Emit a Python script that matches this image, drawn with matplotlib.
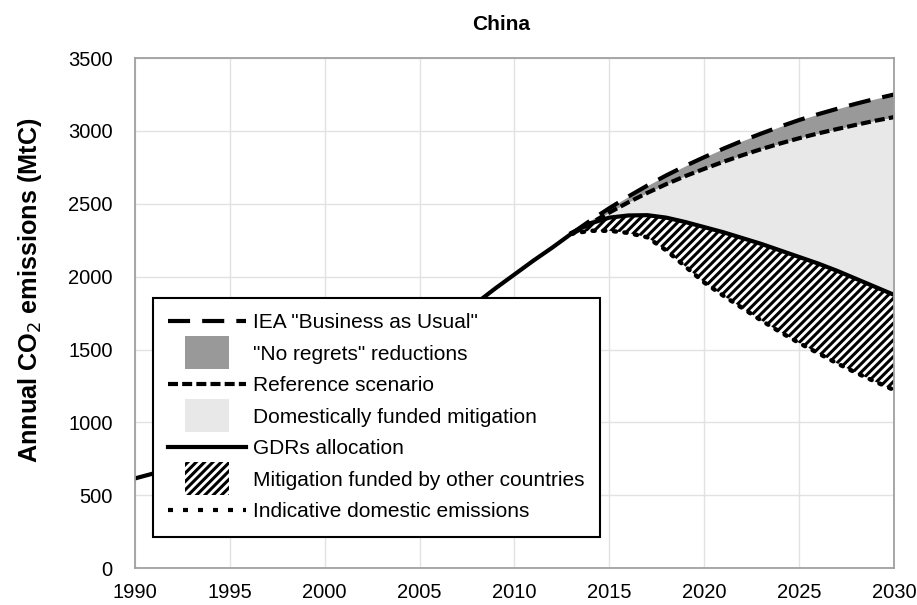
import numpy as np
import matplotlib
matplotlib.use('Agg')
import matplotlib.pyplot as plt
from matplotlib.lines import Line2D
from matplotlib.patches import Patch, Rectangle
from matplotlib.legend_handler import HandlerPatch

plt.rcParams['font.family'] = ['Liberation Sans', 'DejaVu Sans']
plt.rcParams['hatch.linewidth'] = 2.2

# historical emissions (MtC)
hist_years = np.arange(1990, 2014)
hist_vals = [615, 650, 690, 730, 775, 820, 850, 870, 880, 895, 915, 945,
             1000, 1100, 1260, 1410, 1560, 1700, 1820, 1920, 2015, 2110, 2200, 2295]

# projections
proj_years = np.arange(2013, 2031)
bau = [2295, 2385, 2470, 2550, 2625, 2695, 2760, 2820, 2878, 2932,
       2982, 3030, 3075, 3115, 3152, 3187, 3220, 3250]
reference = [2290, 2365, 2440, 2510, 2575, 2635, 2690, 2740, 2788, 2833,
             2875, 2914, 2950, 2983, 3013, 3042, 3070, 3095]
gdrs = [2300, 2365, 2405, 2420, 2422, 2405, 2375, 2340, 2305, 2265,
        2225, 2180, 2135, 2090, 2040, 1985, 1930, 1875]
indicative = [2295, 2315, 2315, 2300, 2270, 2180, 2070, 1960, 1870, 1785,
              1700, 1620, 1545, 1475, 1405, 1340, 1280, 1222]

labels = ['IEA "Business as Usual"', '"No regrets" reductions', 'Reference scenario',
          'Domestically funded mitigation', 'GDRs allocation',
          'Mitigation funded by other countries', 'Indicative domestic emissions']

fig = plt.figure(figsize=(9.17, 6.05), dpi=100)
ax = fig.add_axes([0.147, 0.061, 0.828, 0.843])

bau_c = '#999999'
dom_c = '#e8e8e8'
bau_dash = (5.3, 2.9)
ref_dash = (2.4, 1.0)

ax.fill_between(proj_years, reference, bau, color=bau_c, lw=0)
ax.fill_between(proj_years, gdrs, reference, color=dom_c, lw=0)
ax.fill_between(proj_years, indicative, gdrs, facecolor='white', edgecolor='black',
                hatch='////', lw=0)

ax.plot(hist_years, hist_vals, color='black', lw=3)
ax.plot(proj_years, bau, color='black', lw=3, dashes=bau_dash)
ax.plot(proj_years, reference, color='black', lw=3, dashes=ref_dash)
ax.plot(proj_years, gdrs, color='black', lw=3)
ax.plot(proj_years, indicative, color='black', lw=3.2, dashes=(0.5, 1.9),
        dash_capstyle='round')

ax.set_xlim(1990, 2030)
ax.set_ylim(0, 3500)
ax.set_xticks(np.arange(1990, 2031, 5))
ax.set_yticks(np.arange(0, 3501, 500))
ax.tick_params(axis='both', length=0, labelsize=14.5)
ax.tick_params(axis='y', pad=16)
ax.tick_params(axis='x', pad=11)
ax.grid(True, color='#e2e2e2', lw=1)
ax.set_axisbelow(True)
for s in ax.spines.values():
    s.set_color('#a0a0a0')
    s.set_linewidth(1.3)

fig.text(501 / 917, 1 - 25 / 605, 'China', fontsize=15, fontweight='bold',
         ha='center', va='center')
ax.set_ylabel('Annual CO$_2$ emissions (MtC)', fontsize=18.2, fontweight='bold')
ax.yaxis.set_label_coords(-0.12, 0.545)


def small_box(legend, orig_handle, xdescent, ydescent, width, height, fontsize):
    w = width * 0.58
    h = fontsize * 1.55
    return Rectangle((-xdescent + (width - w) / 2, -ydescent + height / 2 - h / 2), w, h)


handles = [
    Line2D([], [], color='black', lw=3, dashes=bau_dash),
    Patch(facecolor=bau_c, edgecolor='none'),
    Line2D([], [], color='black', lw=3, dashes=ref_dash),
    Patch(facecolor=dom_c, edgecolor='none'),
    Line2D([], [], color='black', lw=3),
    Patch(facecolor='white', edgecolor='black', hatch='////', lw=0),
    Line2D([], [], color='black', lw=3, dashes=(1.2, 2.4)),
]
leg = ax.legend(handles, labels, loc='lower left', bbox_to_anchor=(0.0237, 0.061),
                fontsize=15, frameon=True, fancybox=False, framealpha=1,
                handlelength=3.7, handleheight=0.7, handletextpad=0.35,
                labelspacing=0.6, borderpad=0.75, borderaxespad=0,
                handler_map={Patch: HandlerPatch(patch_func=small_box)})
leg.get_frame().set_edgecolor('black')
leg.get_frame().set_linewidth(1.5)

fig.savefig('out.png', dpi=100)
